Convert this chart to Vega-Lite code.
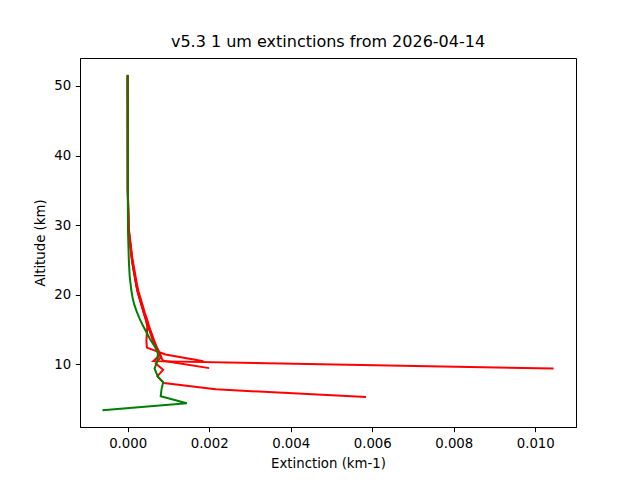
{
  "$schema": "https://vega.github.io/schema/vega-lite/v6.json",
  "autosize": "none",
  "width": 496,
  "height": 369,
  "padding": {"left": 80, "top": 58, "right": 64, "bottom": 53},
  "background": "white",
  "config": {
    "font": "DejaVu Sans",
    "view": {"stroke": "black", "strokeWidth": 1},
    "axis": {
      "grid": false,
      "domainColor": "black",
      "tickColor": "black",
      "tickSize": 4.7,
      "labelPadding": 4.7,
      "labelFontSize": 13.3,
      "labelColor": "black",
      "labelFont": "DejaVu Sans",
      "titleFontSize": 13.3,
      "titleFontWeight": "normal",
      "titleColor": "black",
      "titleFont": "DejaVu Sans"
    }
  },
  "title": {
    "text": "v5.3 1 um extinctions from 2026-04-14",
    "fontSize": 16,
    "fontWeight": "normal",
    "font": "DejaVu Sans",
    "color": "black",
    "offset": 8,
    "anchor": "middle"
  },
  "datasets": {
    "red": [
      {"p": "A", "alt": 5.3, "ext": 0.00585},
      {"p": "A", "alt": 6.4, "ext": 0.00216},
      {"p": "A", "alt": 7.3, "ext": 0.00089},
      {"p": "A", "alt": 8.3, "ext": 0.00073},
      {"p": "A", "alt": 9.2, "ext": 0.00087},
      {"p": "A", "alt": 10.1, "ext": 0.00069},
      {"p": "A", "alt": 11.1, "ext": 0.00082},
      {"p": "A", "alt": 12.1, "ext": 0.00074},
      {"p": "A", "alt": 13.1, "ext": 0.00064},
      {"p": "A", "alt": 14.1, "ext": 0.00058},
      {"p": "A", "alt": 15.1, "ext": 0.00052},
      {"p": "A", "alt": 16.1, "ext": 0.00047},
      {"p": "A", "alt": 17.1, "ext": 0.00041},
      {"p": "A", "alt": 18.1, "ext": 0.00036},
      {"p": "A", "alt": 19.1, "ext": 0.00031},
      {"p": "A", "alt": 20.1, "ext": 0.00026},
      {"p": "A", "alt": 21.1, "ext": 0.00022},
      {"p": "A", "alt": 22.1, "ext": 0.00019},
      {"p": "A", "alt": 23.1, "ext": 0.00016},
      {"p": "A", "alt": 24.1, "ext": 0.00013},
      {"p": "A", "alt": 25.1, "ext": 0.0001},
      {"p": "A", "alt": 26.1, "ext": 0.00008},
      {"p": "A", "alt": 27.1, "ext": 0.00006},
      {"p": "A", "alt": 28.1, "ext": 0.00004},
      {"p": "A", "alt": 29.1, "ext": 0.00002},
      {"p": "A", "alt": 35, "ext": 0.000003},
      {"p": "A", "alt": 51.5, "ext": 0},
      {"p": "B", "alt": 9.4, "ext": 0.01045},
      {"p": "B", "alt": 10.45, "ext": 0.00063},
      {"p": "B", "alt": 11.4, "ext": 0.0008},
      {"p": "B", "alt": 12.4, "ext": 0.00072},
      {"p": "B", "alt": 13.4, "ext": 0.00065},
      {"p": "B", "alt": 14.4, "ext": 0.00059},
      {"p": "B", "alt": 15.4, "ext": 0.00053},
      {"p": "B", "alt": 16.4, "ext": 0.00048},
      {"p": "B", "alt": 17.4, "ext": 0.00042},
      {"p": "B", "alt": 18.4, "ext": 0.00037},
      {"p": "B", "alt": 19.4, "ext": 0.00032},
      {"p": "B", "alt": 20.4, "ext": 0.00027},
      {"p": "B", "alt": 21.4, "ext": 0.00023},
      {"p": "B", "alt": 22.4, "ext": 0.0002},
      {"p": "B", "alt": 23.4, "ext": 0.00017},
      {"p": "B", "alt": 24.4, "ext": 0.00014},
      {"p": "B", "alt": 25.4, "ext": 0.00011},
      {"p": "B", "alt": 26.4, "ext": 0.00009},
      {"p": "B", "alt": 27.4, "ext": 0.00007},
      {"p": "B", "alt": 28.4, "ext": 0.00005},
      {"p": "B", "alt": 29.4, "ext": 0.00003},
      {"p": "B", "alt": 35, "ext": 0.000004},
      {"p": "B", "alt": 51.5, "ext": 0},
      {"p": "C", "alt": 9.45, "ext": 0.002},
      {"p": "C", "alt": 10.5, "ext": 0.00087},
      {"p": "C", "alt": 11.5, "ext": 0.00077},
      {"p": "C", "alt": 12.5, "ext": 0.00069},
      {"p": "C", "alt": 13.5, "ext": 0.00062},
      {"p": "C", "alt": 14.5, "ext": 0.00056},
      {"p": "C", "alt": 15.5, "ext": 0.0005},
      {"p": "C", "alt": 16.5, "ext": 0.00044},
      {"p": "C", "alt": 17.5, "ext": 0.00039},
      {"p": "C", "alt": 18.5, "ext": 0.00034},
      {"p": "C", "alt": 19.5, "ext": 0.00029},
      {"p": "C", "alt": 20.5, "ext": 0.00024},
      {"p": "C", "alt": 21.5, "ext": 0.00021},
      {"p": "C", "alt": 22.5, "ext": 0.00018},
      {"p": "C", "alt": 23.5, "ext": 0.00015},
      {"p": "C", "alt": 24.5, "ext": 0.00012},
      {"p": "C", "alt": 25.5, "ext": 0.0001},
      {"p": "C", "alt": 26.5, "ext": 0.00008},
      {"p": "C", "alt": 27.5, "ext": 0.00006},
      {"p": "C", "alt": 28.5, "ext": 0.00004},
      {"p": "C", "alt": 29.5, "ext": 0.00002},
      {"p": "C", "alt": 35, "ext": 0.000003},
      {"p": "C", "alt": 51.5, "ext": 0},
      {"p": "D", "alt": 10.45, "ext": 0.00186},
      {"p": "D", "alt": 11.4, "ext": 0.00093},
      {"p": "D", "alt": 12.4, "ext": 0.00047},
      {"p": "D", "alt": 13.4, "ext": 0.00046},
      {"p": "D", "alt": 14.4, "ext": 0.00047},
      {"p": "D", "alt": 15.4, "ext": 0.00048},
      {"p": "D", "alt": 16.4, "ext": 0.00045},
      {"p": "D", "alt": 17.4, "ext": 0.0004},
      {"p": "D", "alt": 18.4, "ext": 0.00035},
      {"p": "D", "alt": 19.4, "ext": 0.0003},
      {"p": "D", "alt": 20.4, "ext": 0.00025},
      {"p": "D", "alt": 21.4, "ext": 0.00021},
      {"p": "D", "alt": 22.4, "ext": 0.00018},
      {"p": "D", "alt": 23.4, "ext": 0.00015},
      {"p": "D", "alt": 24.4, "ext": 0.00012},
      {"p": "D", "alt": 25.4, "ext": 0.0001},
      {"p": "D", "alt": 26.4, "ext": 0.00008},
      {"p": "D", "alt": 27.4, "ext": 0.00006},
      {"p": "D", "alt": 28.4, "ext": 0.00004},
      {"p": "D", "alt": 29.4, "ext": 0.00002},
      {"p": "D", "alt": 35, "ext": 0.000002},
      {"p": "D", "alt": 51.5, "ext": 0}
    ],
    "green": [
      {"alt": 3.4, "ext": -0.00062},
      {"alt": 4.4, "ext": 0.00145},
      {"alt": 5.4, "ext": 0.00081},
      {"alt": 6.4, "ext": 0.00083},
      {"alt": 7.4, "ext": 0.00087},
      {"alt": 8.2, "ext": 0.00074},
      {"alt": 9.4, "ext": 0.00066},
      {"alt": 10.5, "ext": 0.00073},
      {"alt": 11.6, "ext": 0.00074},
      {"alt": 12.6, "ext": 0.00066},
      {"alt": 13.6, "ext": 0.00055},
      {"alt": 14.6, "ext": 0.00046},
      {"alt": 15.6, "ext": 0.00037},
      {"alt": 16.6, "ext": 0.00029},
      {"alt": 17.6, "ext": 0.00022},
      {"alt": 18.6, "ext": 0.00016},
      {"alt": 19.6, "ext": 0.00012},
      {"alt": 20.6, "ext": 0.00009},
      {"alt": 21.6, "ext": 0.00007},
      {"alt": 22.6, "ext": 0.00005},
      {"alt": 23.6, "ext": 0.00004},
      {"alt": 24.6, "ext": 0.00003},
      {"alt": 25.6, "ext": 0.000025},
      {"alt": 26.6, "ext": 0.00002},
      {"alt": 27.6, "ext": 0.000015},
      {"alt": 28.6, "ext": 0.00001},
      {"alt": 29.6, "ext": 0.000008},
      {"alt": 32, "ext": 0.000005},
      {"alt": 36, "ext": 0.000004},
      {"alt": 40, "ext": 0.000003},
      {"alt": 45, "ext": 0.000002},
      {"alt": 51.6, "ext": 0.000001}
    ]
  },
  "encoding": {
    "x": {
      "field": "ext",
      "type": "quantitative",
      "title": "Extinction (km-1)",
      "scale": {"domain": [-0.00117, 0.011], "nice": false, "zero": false},
      "axis": {"values": [0, 0.002, 0.004, 0.006, 0.008, 0.01], "format": ".3f", "titlePadding": 7}
    },
    "y": {
      "field": "alt",
      "type": "quantitative",
      "title": "Altitude (km)",
      "scale": {"domain": [0.99, 54.01], "nice": false, "zero": false},
      "axis": {"values": [10, 20, 30, 40, 50], "format": "d", "titlePadding": 6}
    },
    "order": {"field": "alt", "type": "quantitative"}
  },
  "layer": [
    {
      "data": {"name": "red"},
      "mark": {"type": "line", "color": "#ff0000", "strokeWidth": 2},
      "encoding": {"detail": {"field": "p", "type": "nominal"}}
    },
    {
      "data": {"name": "green"},
      "mark": {"type": "line", "color": "#008000", "strokeWidth": 2},
      "encoding": {}
    }
  ]
}
